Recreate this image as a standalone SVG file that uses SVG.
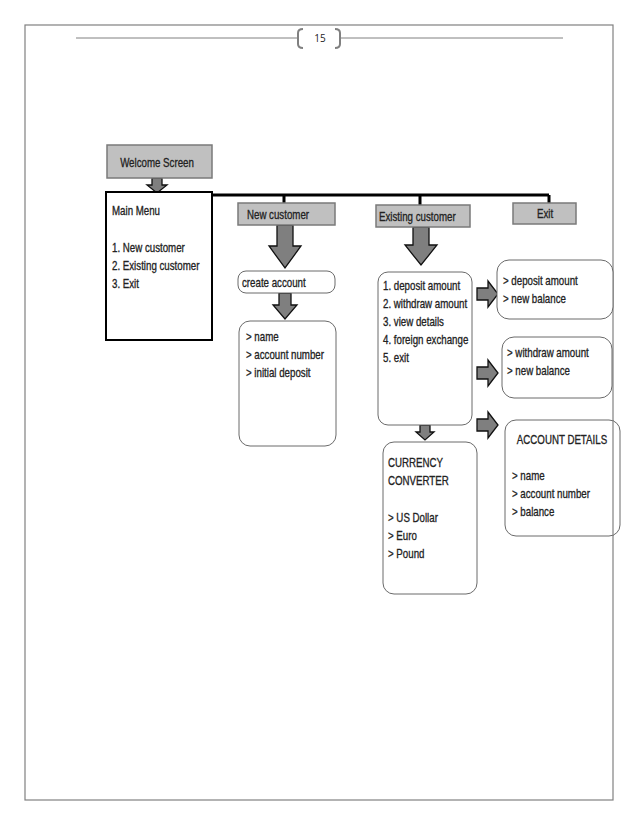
<svg xmlns="http://www.w3.org/2000/svg" width="638" height="826" viewBox="0 0 638 826">
<style>
text{font-family:"Liberation Sans",Arial,sans-serif;font-size:12px;fill:#222;stroke:#222;stroke-width:0.3}
.hdr{fill:#c0c0c0;stroke:#7a7a7a;stroke-width:1.5}
.rbox{fill:#fff;stroke:#6a6a6a;stroke-width:1}
.arr{fill:#7f7f7f;stroke:#111;stroke-width:1.3;stroke-linejoin:miter}
.line{fill:none;stroke:#000;stroke-width:3}
.pg{fill:none;stroke:#808080;stroke-width:1.2}
.pn{font-family:"Open Sans","Liberation Sans",sans-serif;font-size:10px;stroke:none}
</style>
<rect width="638" height="826" fill="#fff"/>
<g id="page">
<rect class="pg" x="25" y="25" width="588" height="775"/>
<line x1="76" y1="38" x2="297" y2="38" stroke="#808080" stroke-width="1"/>
<line x1="341" y1="38" x2="563" y2="38" stroke="#808080" stroke-width="1"/>
<path d="M303,29 Q298,29 298,33 V44 Q298,48 303,48" fill="none" stroke="#808080" stroke-width="2"/>
<path d="M335,29 Q340,29 340,33 V44 Q340,48 335,48" fill="none" stroke="#808080" stroke-width="2"/>
<text class="pn" x="320" y="42" text-anchor="middle">15</text>
</g>
<g id="connectors">
<path class="line" d="M212,195 H549 M284,195 V203 M420,195 V205 M549,195 V203"/>
<path class="arr" d="M152,178 H162 V185 H167 L157,193 L147,185 H152 Z"/>
<path class="arr" d="M277,225 H293 V246 H301 L285,268 L269,246 H277 Z"/>
<path class="arr" d="M413,227 H429 V245 H437 L421,265 L405,245 H413 Z"/>
<path class="arr" d="M279,293 H291 V305 H297 L285,319 L273,305 H279 Z"/>
<path class="arr" d="M420,425 H430 V432 H434 L425,440 L416,432 H420 Z"/>
<path class="arr" d="M477,288 H488 V281 L498,294 L488,307 V300 H477 Z"/>
<path class="arr" d="M477,367 H488 V360 L498,373 L488,386 V379 H477 Z"/>
<path class="arr" d="M477,419 H488 V412 L498,425 L488,438 V431 H477 Z"/>
</g>
<g id="welcome">
<rect class="hdr" x="107" y="145" width="105" height="33"/>
<g transform="translate(157,0) scale(0.81,1)"><text x="0" y="167" text-anchor="middle">Welcome Screen</text></g>
</g>
<g id="main-menu">
<rect x="106" y="192" width="106" height="148" fill="#fff" stroke="#000" stroke-width="2"/>
<g transform="translate(112,0) scale(0.81,1)">
<text x="0" y="215">Main Menu</text>
<text x="0" y="252">1. New customer</text>
<text x="0" y="270">2. Existing customer</text>
<text x="0" y="288">3. Exit</text>
</g>
</g>
<g id="new-customer">
<rect class="hdr" x="238" y="203" width="97" height="22"/>
<g transform="translate(247,0) scale(0.81,1)"><text x="0" y="219">New customer</text></g>
</g>
<g id="existing-customer">
<rect class="hdr" x="376" y="205" width="94" height="22"/>
<g transform="translate(379,0) scale(0.81,1)"><text x="0" y="221">Existing customer</text></g>
</g>
<g id="exit">
<rect class="hdr" x="513" y="203" width="63" height="21"/>
<g transform="translate(545,0) scale(0.81,1)"><text x="0" y="218" text-anchor="middle">Exit</text></g>
</g>
<g id="create-account">
<rect class="rbox" x="238" y="271" width="97" height="22" rx="8"/>
<g transform="translate(242,0) scale(0.81,1)"><text x="0" y="287">create account</text></g>
</g>
<g id="new-details">
<rect class="rbox" x="239" y="321" width="97" height="125" rx="11"/>
<g transform="translate(246,0) scale(0.81,1)">
<text x="0" y="341">&gt; name</text>
<text x="0" y="359">&gt; account number</text>
<text x="0" y="377">&gt; initial deposit</text>
</g>
</g>
<g id="options">
<rect class="rbox" x="378" y="272" width="94" height="153" rx="10"/>
<g transform="translate(383,0) scale(0.81,1)">
<text x="0" y="290">1. deposit amount</text>
<text x="0" y="308">2. withdraw amount</text>
<text x="0" y="326">3. view details</text>
<text x="0" y="344">4. foreign exchange</text>
<text x="0" y="362">5. exit</text>
</g>
</g>
<g id="deposit">
<rect class="rbox" x="497" y="260" width="116" height="59" rx="12"/>
<g transform="translate(503,0) scale(0.81,1)">
<text x="0" y="285">&gt; deposit amount</text>
<text x="0" y="303">&gt; new balance</text>
</g>
</g>
<g id="withdraw">
<rect class="rbox" x="502" y="337" width="110" height="61" rx="12"/>
<g transform="translate(507,0) scale(0.81,1)">
<text x="0" y="357">&gt; withdraw amount</text>
<text x="0" y="375">&gt; new balance</text>
</g>
</g>
<g id="account-details">
<rect class="rbox" x="505" y="420" width="115" height="116" rx="11"/>
<g transform="translate(562,0) scale(0.81,1)"><text x="0" y="444" text-anchor="middle">ACCOUNT DETAILS</text></g>
<g transform="translate(512,0) scale(0.81,1)">
<text x="0" y="480">&gt; name</text>
<text x="0" y="498">&gt; account number</text>
<text x="0" y="516">&gt; balance</text>
</g>
</g>
<g id="currency">
<rect class="rbox" x="383" y="442" width="94" height="152" rx="11"/>
<g transform="translate(388,0) scale(0.81,1)">
<text x="0" y="467">CURRENCY</text>
<text x="0" y="485">CONVERTER</text>
<text x="0" y="522">&gt; US Dollar</text>
<text x="0" y="540">&gt; Euro</text>
<text x="0" y="558">&gt; Pound</text>
</g>
</g>
<line x1="613" y1="420" x2="613" y2="536" stroke="#808080" stroke-width="1.2"/>
</svg>
